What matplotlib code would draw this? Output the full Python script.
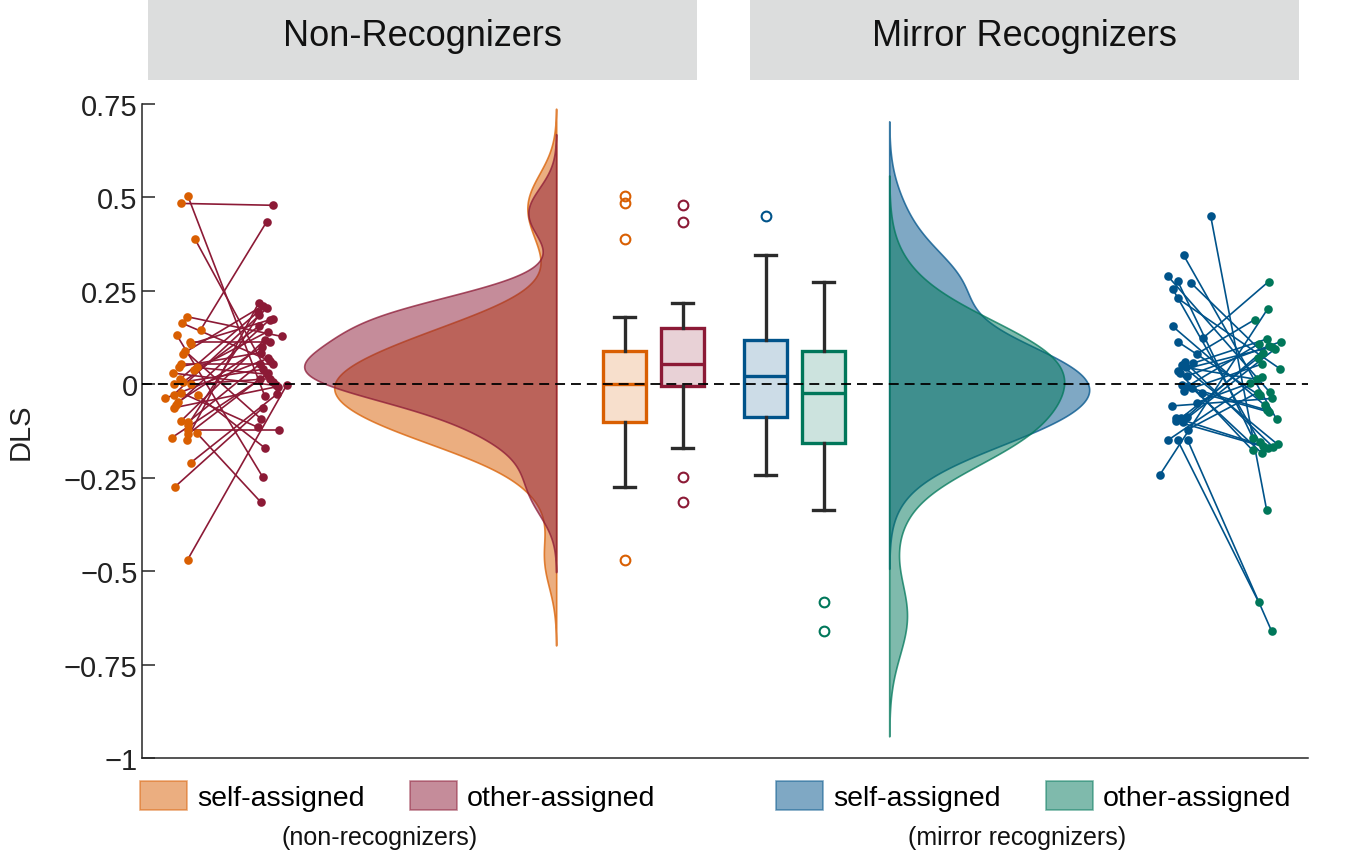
# Librerias
import numpy as np
import matplotlib
matplotlib.use("Agg")
import matplotlib.pyplot as plt
from matplotlib.patches import Patch, Rectangle

plt.rcParams['font.family'] = ['Liberation Sans', 'DejaVu Sans']

# ------------------------------ Datos ------------------------------
# Non-recognizers: self-assigned (naranja) y other-assigned (rojo), pareados por sujeto
self_nr = [0.505, 0.484, 0.39, 0.181, 0.164, 0.146, 0.132, 0.112, 0.108, 0.09,
           0.082, 0.054, 0.047, 0.045, 0.038, 0.030, 0.013, 0.002, 0.0, 0.005,
           -0.022, -0.038, -0.028, -0.030, -0.048, -0.056, -0.063, -0.099, -0.102, -0.110,
           -0.121, -0.134, -0.148, -0.130, -0.143, -0.21, -0.275, -0.469]
other_nr = [-0.031, 0.479, 0.006, 0.128, 0.063, 0.435, -0.248, 0.112, 0.175, -0.092,
            0.21, 0.054, 0.085, 0.027, 0.141, -0.003, 0.193, 0.04, 0.015, 0.155,
            -0.115, 0.069, 0.203, -0.170, 0.10, 0.173, -0.006, 0.119, 0.054, 0.185,
            -0.121, 0.03, 0.218, -0.315, 0.013, -0.027, -0.063, -0.002]
jit_self_nr = [0.01, -0.06, 0.08, 0.0, -0.05, 0.14, -0.10, 0.03, 0.04, -0.02,
               -0.04, -0.06, -0.08, 0.10, 0.07, -0.14, -0.07, -0.13, 0.04, -0.04,
               -0.06, -0.22, -0.13, 0.11, -0.09, -0.11, -0.13, -0.06, 0.01, 0.01,
               0.01, 0.01, 0.0, 0.10, -0.15, 0.04, -0.12, 0.01]
jit_other_nr = [-0.03, 0.05, 0.05, 0.14, 0.02, -0.01, -0.05, 0.02, 0.05, -0.07,
                -0.05, 0.05, -0.07, -0.01, 0.0, 0.08, -0.10, -0.05, 0.02, -0.09,
                -0.10, 0.0, -0.01, -0.03, -0.06, 0.02, 0.10, -0.03, -0.08, -0.09,
                0.11, 0.0, -0.09, -0.07, -0.08, 0.09, -0.05, 0.19]

# Mirror recognizers: self-assigned (azul) y other-assigned (verde)
self_mr = [0.45, 0.345, 0.29, 0.276, 0.272, 0.255, 0.23, 0.155, 0.123, 0.114,
           0.081, 0.06, 0.056, 0.051, 0.045, 0.036, 0.03, 0.022, -0.003, -0.005,
           -0.009, -0.018, -0.024, -0.049, -0.058, -0.087, -0.09, -0.091, -0.099, -0.10,
           -0.121, -0.15, -0.15, -0.15, -0.243]
other_mr = [-0.337, -0.094, -0.021, -0.143, 0.085, -0.155, 0.042, -0.056, 0.275, -0.03,
            0.173, -0.167, 0.121, -0.161, 0.013, 0.10, -0.177, 0.114, -0.069, 0.108,
            -0.184, 0.054, -0.074, 0.003, -0.038, 0.103, -0.164, 0.07, -0.17, 0.094,
            -0.022, 0.02, -0.583, -0.661, 0.202]
jit_self_mr = [0.28, 0.01, -0.15, -0.05, 0.08, -0.10, -0.05, -0.10, 0.20, -0.05,
               0.14, 0.02, 0.10, -0.01, 0.03, -0.05, -0.03, 0.04, -0.01, 0.05,
               0.09, 0.01, 0.19, 0.14, -0.11, 0.04, -0.07, -0.02, -0.07, 0.0,
               0.05, -0.15, -0.05, 0.05, -0.23]
jit_other_mr = [0.02, 0.12, 0.05, -0.12, -0.02, -0.05, 0.15, 0.0, 0.04, -0.05,
                -0.10, 0.08, 0.02, 0.13, -0.08, 0.07, -0.12, 0.16, 0.02, -0.06,
                -0.03, -0.03, 0.04, -0.15, 0.07, 0.04, -0.02, -0.07, 0.03, 0.10,
                -0.07, -0.03, -0.06, 0.07, 0.03]

group_titles = ['Non-Recognizers', 'Mirror Recognizers']
legend_labels = ['self-assigned', 'other-assigned']
legend_notes = ['(non-recognizers)', '(mirror recognizers)']
ytick_vals = [-1, -0.75, -0.5, -0.25, 0, 0.25, 0.5, 0.75]
ytick_labels = ['\u22121', '\u22120.75', '\u22120.5', '\u22120.25', '0', '0.25', '0.5', '0.75']

# Colores
c_orange = '#d95f02'
c_red = '#8c1a36'
c_blue = '#00538a'
c_green = '#00775a'


# Densidad tipo ksdensity (kernel normal, ancho de banda por regla de Silverman con MAD)
def densidad(v):
    v = np.asarray(v, dtype=float)
    n = len(v)
    sig = np.median(np.abs(v - np.median(v))) / 0.6745
    bw = sig * (4.0 / (3.0 * n)) ** 0.2
    y = np.linspace(v.min() - 3 * bw, v.max() + 3 * bw, 300)
    d = np.exp(-0.5 * ((y[:, None] - v[None, :]) / bw) ** 2).sum(axis=1) / (n * bw * np.sqrt(2 * np.pi))
    return y, d


# ------------------------------ Figura ------------------------------
W, H = 1347, 854
fig = plt.figure(figsize=(W / 100, H / 100), dpi=100)
ax = fig.add_axes([141.7 / W, 1 - 759 / H, (1307.7 - 141.7) / W, (759 - 105) / H])
ax.set_xlim(0, 11.66)
ax.set_ylim(-1, 0.75)

# posiciones de cada elemento
pos_self_nr, pos_other_nr = 0.45, 1.26
base_nr = 4.15
box_pos = [4.83, 5.41, 6.24, 6.82]
base_mr = 7.48
pos_self_mr, pos_other_mr = 10.41, 11.23

# Puntos y lineas pareadas
x1 = pos_self_nr + np.array(jit_self_nr)
x2 = pos_other_nr + np.array(jit_other_nr)
for a, b, ya, yb in zip(x1, x2, self_nr, other_nr):
    ax.plot([a, b], [ya, yb], color=c_red, lw=1.2, zorder=2)
ax.plot(x1, self_nr, 'o', color=c_orange, ms=6.2, mew=0, zorder=3)
ax.plot(x2, other_nr, 'o', color=c_red, ms=6.2, mew=0, zorder=3)

x3 = pos_self_mr + np.array(jit_self_mr)
x4 = pos_other_mr + np.array(jit_other_mr)
for a, b, ya, yb in zip(x3, x4, self_mr, other_mr):
    ax.plot([a, b], [ya, yb], color=c_blue, lw=1.2, zorder=2)
ax.plot(x3, self_mr, 'o', color=c_blue, ms=6.2, mew=0, zorder=3)
ax.plot(x4, other_mr, 'o', color=c_green, ms=6.2, mew=0, zorder=3)

# Medias nubes (violines), ancho maximo de cada una
anchos_nr = [2.22, 2.52]
anchos_mr = [2.0, 1.75]
for vals, col, ancho in zip([self_nr, other_nr], [c_orange, c_red], anchos_nr):
    yy, dd = densidad(vals)
    xx = base_nr - dd / dd.max() * ancho
    ax.fill_betweenx(yy, base_nr, xx, facecolor=col, alpha=0.5, lw=0, zorder=1)
    ax.fill_betweenx(yy, base_nr, xx, facecolor='none', edgecolor=col, alpha=0.75, lw=1.2, zorder=1)
for vals, col, ancho in zip([self_mr, other_mr], [c_blue, c_green], anchos_mr):
    yy, dd = densidad(vals)
    xx = base_mr + dd / dd.max() * ancho
    ax.fill_betweenx(yy, base_mr, xx, facecolor=col, alpha=0.5, lw=0, zorder=1)
    ax.fill_betweenx(yy, base_mr, xx, facecolor='none', edgecolor=col, alpha=0.75, lw=1.2, zorder=1)

# Boxplots
cols = [c_orange, c_red, c_blue, c_green]
bp = ax.boxplot([self_nr, other_nr, self_mr, other_mr], positions=box_pos, widths=0.43,
                whis=1.5, patch_artist=True, capwidths=0.21, manage_ticks=False, zorder=4)
for i, col in enumerate(cols):
    rgba = matplotlib.colors.to_rgba(col)
    bp['boxes'][i].set_facecolor((rgba[0], rgba[1], rgba[2], 0.2))
    bp['boxes'][i].set_edgecolor(col)
    bp['boxes'][i].set_linewidth(2.4)
    bp['medians'][i].set_color(col)
    bp['medians'][i].set_linewidth(2.4)
    bp['fliers'][i].set(marker='o', markerfacecolor='none', markeredgecolor=col,
                        markersize=7, markeredgewidth=1.5)
for ln in bp['whiskers'] + bp['caps']:
    ln.set_color('#2b2b2b')
    ln.set_linewidth(2.4)

# Linea de referencia en cero
ax.axhline(0, color='black', lw=1.3, linestyle=(0, (5.5, 3.3)), zorder=6)

# Ejes
for s in ['top', 'right']:
    ax.spines[s].set_visible(False)
for s in ['left', 'bottom']:
    ax.spines[s].set_color('#262626')
    ax.spines[s].set_linewidth(1.1)
ax.set_xticks([])
ax.set_yticks(ytick_vals)
ax.set_yticklabels(ytick_labels)
ax.tick_params(axis='y', direction='in', length=9.5, width=1.1, labelsize=21,
               colors='#262626', labelcolor='#222222', pad=3)
ax.set_ylabel('DLS', fontsize=21, color='#222222', labelpad=21)

# Encabezados grises
for x0, x1p, title in zip([148, 750], [697, 1299], group_titles):
    fig.add_artist(Rectangle((x0 / W, 1 - 81 / H), (x1p - x0) / W, 81 / H,
                             transform=fig.transFigure, facecolor='#dcdddd', edgecolor='none'))
    fig.text((x0 + x1p) / 2 / W, 1 - 36 / H, title, fontsize=26, ha='center', va='center',
             color='#111111')

# Leyendas
h_nr = [Patch(facecolor=c, edgecolor=c, alpha=0.5, lw=1.2) for c in [c_orange, c_red]]
h_mr = [Patch(facecolor=c, edgecolor=c, alpha=0.5, lw=1.2) for c in [c_blue, c_green]]
for hh, cx in zip([h_nr, h_mr], [397.5, 1033.5]):
    fig.legend(hh, legend_labels, loc='center', bbox_to_anchor=(cx / W, 1 - 797 / H), ncol=2,
               frameon=False, fontsize=20.5, handlelength=1.65, handleheight=1.2,
               handletextpad=0.35, columnspacing=1.6, borderpad=0, borderaxespad=0)
for note, cx in zip(legend_notes, [380, 1017]):
    fig.text(cx / W, 1 - 838 / H, note, fontsize=18, ha='center', va='center', color='#111111')

fig.savefig('out.png', dpi=100)
